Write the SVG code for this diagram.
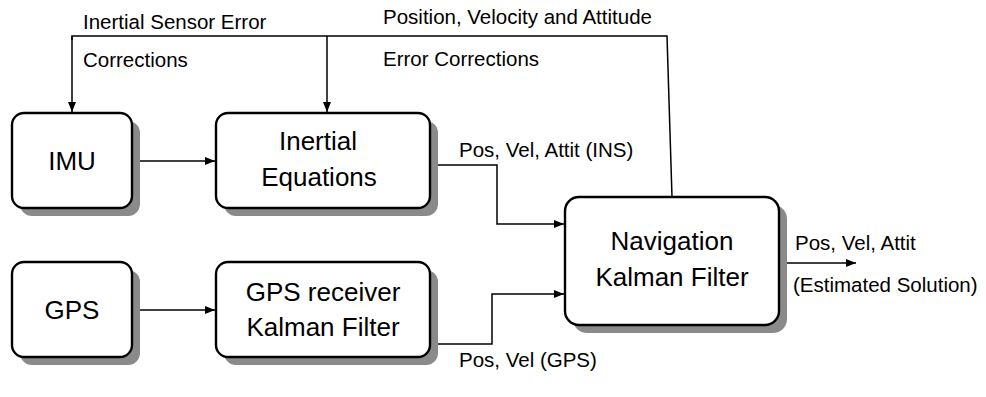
<svg xmlns="http://www.w3.org/2000/svg" width="986" height="397" viewBox="0 0 986 397">
  <style>
    .box { fill: #ffffff; stroke: #000000; stroke-width: 2.4; }
    .shadow { fill: #8a8a8a; stroke: none; }
    .big { font-family: "Liberation Sans", Arial, sans-serif; font-size: 26px; fill: #000; text-anchor: middle; }
    .lbl { font-family: "Liberation Sans", Arial, sans-serif; font-size: 20.5px; fill: #000; }
    .wire { fill: none; stroke: #000; stroke-width: 1.5; }
  </style>
  <defs>
    <marker id="arrow" viewBox="0 0 10 10" refX="10" refY="5" markerWidth="10" markerHeight="8" markerUnits="userSpaceOnUse" orient="auto" preserveAspectRatio="none">
      <path d="M0,0 L10,5 L0,10 z" fill="#000"/>
    </marker>
  </defs>
  <rect width="986" height="397" fill="#ffffff"/>

  <!-- connectors -->
  <g id="connectors">
    <polyline class="wire" points="72,40 72,36 667,36 672,197"/>
    <line class="wire" x1="72" y1="36" x2="72" y2="112" marker-end="url(#arrow)"/>
    <line class="wire" x1="327" y1="36" x2="327" y2="112" marker-end="url(#arrow)"/>
    <line class="wire" x1="132" y1="161" x2="215" y2="161" marker-end="url(#arrow)"/>
    <polyline class="wire" points="430,165 497,165 497,224 564,224" marker-end="url(#arrow)"/>
    <line class="wire" x1="132" y1="310" x2="215" y2="310" marker-end="url(#arrow)"/>
    <polyline class="wire" points="430,344 492,344 492,294 564,294" marker-end="url(#arrow)"/>
    <line class="wire" x1="779" y1="263" x2="856" y2="263" marker-end="url(#arrow)"/>
  </g>

  <!-- connector labels -->
  <text class="lbl" x="83" y="29">Inertial Sensor Error</text>
  <text class="lbl" x="83" y="67">Corrections</text>
  <text class="lbl" x="383" y="24">Position, Velocity and Attitude</text>
  <text class="lbl" x="383" y="66">Error Corrections</text>
  <text class="lbl" x="459" y="157">Pos, Vel, Attit (INS)</text>
  <text class="lbl" x="459" y="367">Pos, Vel (GPS)</text>
  <text class="lbl" x="795" y="250">Pos, Vel, Attit</text>
  <text class="lbl" x="793" y="292">(Estimated Solution)</text>

  <g id="imu">
    <rect class="shadow" x="20" y="121" width="120" height="95" rx="12"/>
    <rect class="box" x="12" y="113" width="120" height="95" rx="12"/>
    <text class="big" x="72" y="170">IMU</text>
  </g>
  <g id="inertial-equations">
    <rect class="shadow" x="224" y="121" width="214" height="95" rx="12"/>
    <rect class="box" x="216" y="113" width="214" height="95" rx="12"/>
    <text class="big" x="318" y="150">Inertial</text>
    <text class="big" x="319" y="186">Equations</text>
  </g>
  <g id="navigation-kf">
    <rect class="shadow" x="573" y="205" width="214" height="128" rx="14"/>
    <rect class="box" x="565" y="197" width="214" height="128" rx="14"/>
    <text class="big" x="672" y="250">Navigation</text>
    <text class="big" x="672" y="286">Kalman Filter</text>
  </g>
  <g id="gps">
    <rect class="shadow" x="20" y="270" width="120" height="95" rx="12"/>
    <rect class="box" x="12" y="262" width="120" height="95" rx="12"/>
    <text class="big" x="72" y="319">GPS</text>
  </g>
  <g id="gps-receiver-kf">
    <rect class="shadow" x="224" y="270" width="214" height="95" rx="12"/>
    <rect class="box" x="216" y="262" width="214" height="95" rx="12"/>
    <text class="big" x="323" y="301">GPS receiver</text>
    <text class="big" x="323" y="336">Kalman Filter</text>
  </g>
</svg>
